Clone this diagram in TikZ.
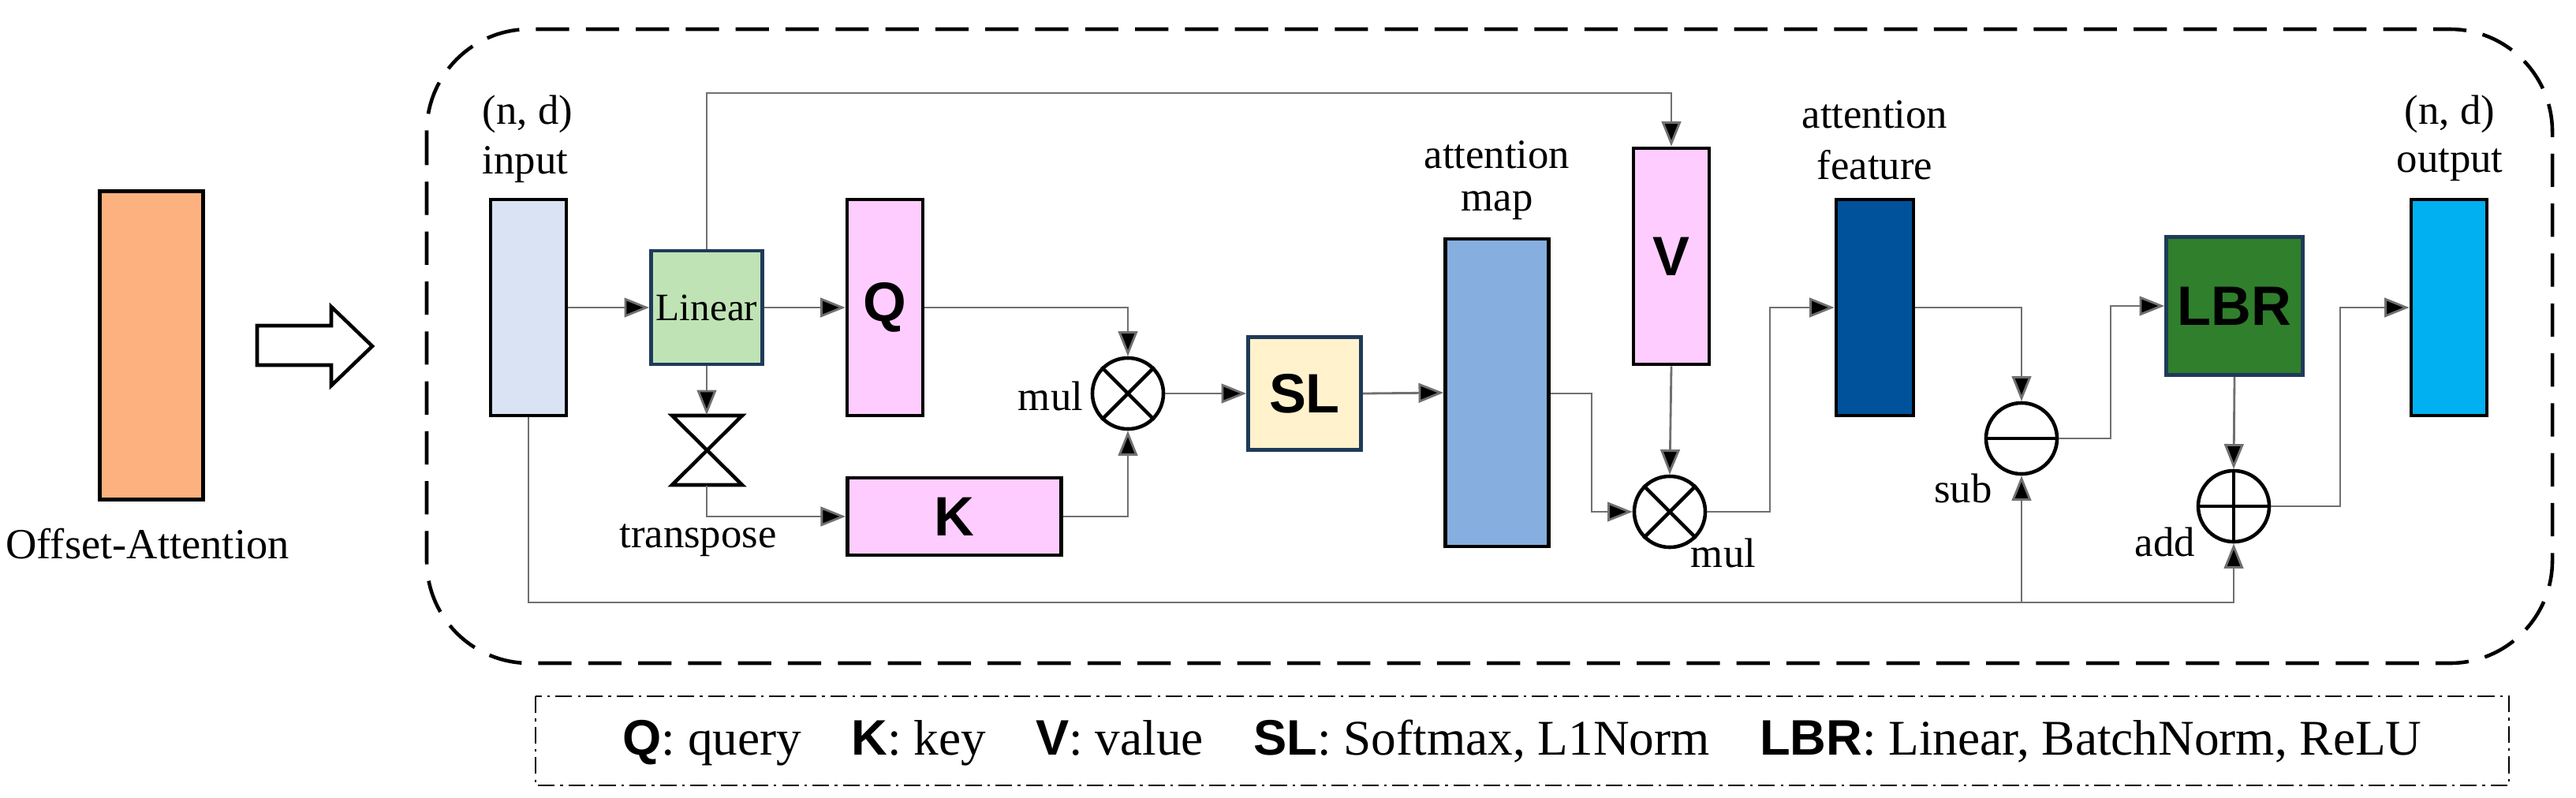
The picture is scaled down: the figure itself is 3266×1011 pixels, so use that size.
\documentclass[tikz,border=0pt]{standalone}
\usepackage{fontspec}
\setmainfont{Liberation Serif}
\newfontfamily\sansb{Liberation Sans}
\usetikzlibrary{arrows.meta}
\definecolor{cin}{HTML}{DAE3F3}
\definecolor{clin}{HTML}{BFE3B5}
\definecolor{cq}{HTML}{FFCCFF}
\definecolor{csl}{HTML}{FFF2CC}
\definecolor{cmap}{HTML}{86AEDF}
\definecolor{cfeat}{HTML}{00529B}
\definecolor{clbr}{HTML}{2F7F2C}
\definecolor{cout}{HTML}{00B0F0}
\definecolor{corg}{HTML}{FDB17E}
\definecolor{cline}{HTML}{707070}
\definecolor{cbord}{HTML}{1F3A5A}
\tikzset{
  box/.style={draw=black,line width=1.3pt,inner sep=0pt},
  bbox/.style={draw=cbord,line width=1.3pt,inner sep=0pt},
  lbl/.style={font=\fontsize{15}{17}\selectfont,inner sep=0pt},
  big/.style={font=\sansb\bfseries\fontsize{20}{22}\selectfont},
  con/.style={draw=cline,line width=0.8pt},
  arr/.style={con,-{Triangle[length=9pt,width=7pt,fill=black]}},
  op/.style={circle,draw=black,line width=1.3pt,minimum size=0.9cm,inner sep=0pt},
}
\begin{document}
\begin{tikzpicture}[x=0.01cm,y=-0.01cm]
\useasboundingbox (0,0) rectangle (3266,1011);
% left part
\node[box,fill=corg,minimum width=1.31cm,minimum height=3.91cm] (orange) at (192,438) {};
\node[lbl,font=\fontsize{15.5}{17}\selectfont] (oa) at (187,690) {Offset-Attention};
\draw[line width=1.3pt] (326,413) -- (420,413) -- (420,389) -- (472,439) -- (420,489) -- (420,463) -- (326,463) -- cycle;
% frame
\draw[dashed,line width=1.3pt,dash pattern=on 12pt off 6pt,rounded corners=1.3cm] (541,37) rectangle (3236,841);
% boxes
\node[box,fill=cin,minimum width=0.96cm,minimum height=2.74cm] (in) at (670,390) {};
\node[lbl] (nd1) at (669,145) {(n, d)};
\node[lbl] (inl) at (666,209) {input};
\node[bbox,fill=clin,minimum width=1.41cm,minimum height=1.44cm,font=\fontsize{14}{16}\selectfont] (lin) at (896,390) {Linear};
\node[box,fill=cq,minimum width=0.96cm,minimum height=2.74cm,big] (q) at (1122,390) {Q};
\node[box,fill=cq,minimum width=2.71cm,minimum height=0.98cm,big] (k) at (1210,655) {K};
\node[inner sep=0pt,minimum width=0.89cm,minimum height=0.88cm] (tr) at (896,571) {};
\draw[line width=1.3pt] (852,527) -- (941,527) -- (852,615) -- (941,615) -- cycle;
\node[lbl] (trl) at (885,685) {transpose};
\node[op] (m1) at (1430,499) {};
\draw[line width=1.3pt] (m1.north west) -- (m1.south east) (m1.north east) -- (m1.south west);
\node[lbl] (m1l) at (1332,502) {mul};
\node[bbox,fill=csl,minimum width=1.43cm,minimum height=1.43cm,big] (sl) at (1654,499) {SL};
\node[box,fill=cmap,minimum width=1.31cm,minimum height=3.9cm] (map) at (1898,498) {};
\node[lbl] (mapl1) at (1898,196) {attention};
\node[lbl] (mapl2) at (1898,261) {map};
\node[box,fill=cq,minimum width=0.96cm,minimum height=2.74cm,big] (v) at (2119,325) {V};
\node[op] (m2) at (2117,649) {};
\draw[line width=1.3pt] (m2.north west) -- (m2.south east) (m2.north east) -- (m2.south west);
\node[lbl] (m2l) at (2185,701) {mul};
\node[box,fill=cfeat,minimum width=0.98cm,minimum height=2.74cm] (feat) at (2377,390) {};
\node[lbl] (fl1) at (2377,145) {attention};
\node[lbl] (fl2) at (2377,209) {feature};
\node[op] (sub) at (2563,556) {};
\draw[line width=1.3pt] (sub.west) -- (sub.east);
\node[lbl] (subl) at (2489,619) {sub};
\node[bbox,fill=clbr,minimum width=1.73cm,minimum height=1.75cm,big] (lbr) at (2833,388) {LBR};
\node[op] (add) at (2832,642) {};
\draw[line width=1.3pt] (add.west) -- (add.east) (add.north) -- (add.south);
\node[lbl] (addl) at (2745,687) {add};
\node[box,fill=cout,minimum width=0.96cm,minimum height=2.74cm] (out) at (3105,390) {};
\node[lbl] (nd2) at (3106,145) {(n, d)};
\node[lbl] (outl) at (3106,209) {output};
% connectors
\draw[arr] (in.east) -- (lin.west);
\draw[arr] (lin.east) -- (q.west);
\draw[arr] (lin.south) -- (tr.north);
\draw[arr] (tr.south) |- (k.west);
\draw[arr] (q.east) -| (m1.north);
\draw[arr] (k.east) -| (m1.south);
\draw[arr] (m1.east) -- (sl.west);
\draw[arr] (sl.east) -- (map.west);
\draw[arr] (lin.north) |- (1500,118) -| (v.north);
\draw[arr] (map.east |- m1) -| (2018,649) -- (m2.west);
\draw[arr] (v.south) -- (m2.north);
\draw[arr] (m2.east) -| (2244,390) -- (feat.west);
\draw[arr] (feat.east) -| (sub.north);
\draw[arr] (sub.east) -| (2676,388) -- (lbr.west);
\draw[arr] (lbr.south) -- (add.north);
\draw[arr] (add.east) -| (2967,390) -- (out.west);
\draw[arr] (in.south) |- (2563,764) -| (add.south);
\draw[arr] (2563,764) -- (sub.south);
% legend
\draw[line width=0.7pt,dash pattern=on 6pt off 2pt on 1pt off 2pt] (679,883) rectangle (3181,996);
\node[inner sep=0pt,font=\fontsize{18}{20}\selectfont] (leg) at (1930,942) {{\sansb\bfseries Q}: query\quad {\sansb\bfseries K}: key\quad {\sansb\bfseries V}: value\quad {\sansb\bfseries SL}: Softmax, L1Norm\quad {\sansb\bfseries LBR}: Linear, BatchNorm, ReLU};
\end{tikzpicture}
\end{document}
